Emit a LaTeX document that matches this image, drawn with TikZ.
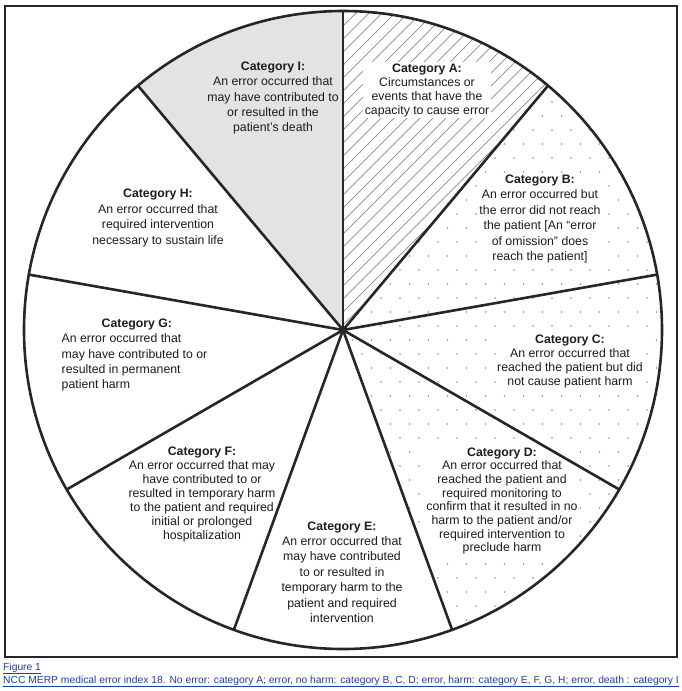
\documentclass[tikz,border=0pt]{standalone}
\usepackage{fontspec}
\setmainfont{Liberation Sans}
\usetikzlibrary{calc}
\definecolor{rim}{HTML}{262626}
\definecolor{ink}{HTML}{1C1C1C}
\definecolor{greyfill}{HTML}{E3E3E3}
\definecolor{hatch}{HTML}{8C8C8C}
\definecolor{speck}{HTML}{8F8F8F}
\definecolor{linkblue}{HTML}{1F3FA6}
\newcommand{\cat}[1]{\textbf{Category #1:}\\}
\tikzset{
  catlbl/.style={align=center, text=ink, inner sep=1.5pt, font=\fontsize{12.3}{15.4}\selectfont},
  tightlbl/.style={catlbl, font=\fontsize{12.3}{14}\selectfont},
  spoke/.style={draw=rim, line width=2.6pt},
  caplbl/.style={anchor=base west, inner sep=0pt, text=linkblue, font=\fontsize{10.3}{12}\selectfont},
}
\begin{document}
\begin{tikzpicture}[x=1pt, y=1pt]
\useasboundingbox (0,0) rectangle (682,-691);
\fill[white] (0,0) rectangle (682,-691);
\coordinate (o) at (343,-330);
\def\rad{319}
% category I, grey
\fill[greyfill] (o) -- ++(90:\rad) arc[start angle=90, end angle=130, radius=\rad] -- cycle;
% category A, hatched
\begin{scope}
  \clip (o) -- ++(50:\rad) arc[start angle=50, end angle=90, radius=\rad] -- cycle;
  \foreach \d in {-330,-317,...,240}
    \draw[hatch, line width=0.7pt] ($(o)+(\d-20,-20)$) -- ++(360,360);
\end{scope}
% categories B, C, D, dotted
\begin{scope}
  \clip (o) -- ++(-70:\rad) arc[start angle=-70, end angle=50, radius=\rad] -- cycle;
  \foreach \r in {0,...,46} {
    \pgfmathsetmacro{\sh}{mod(\r,2)*9.5}
    \foreach \c in {0,...,17}
      \fill[speck] (343+\c*19+\sh, -18-\r*14) circle[radius=0.85];
  }
\end{scope}

\node[catlbl] (catI) at (273,-98)
 {\cat{I}An error occurred that\\may have contributed to\\or resulted in the\\patient's death};
\node[tightlbl, fill=white] (catA) at (427,-90)
 {\cat{A}Circumstances or\\events that have the\\capacity to cause error};
\node[catlbl, fill=white] (catB) at (540,-219)
 {\cat{B}An error occurred but\\the error did not reach\\the patient [An “error\\of omission” does\\reach the patient]};
\node[tightlbl, fill=white] (catC) at (570,-361)
 {\cat{C}An error occurred that\\reached the patient but did\\not cause patient harm};
\node[catlbl, fill=white, font=\fontsize{12.3}{13.7}\selectfont] (catD) at (502,-501)
 {\cat{D}An error occurred that\\reached the patient and\\required monitoring to\\confirm that it resulted in no\\harm to the patient and/or\\required intervention to\\preclude harm};
\node[catlbl] (catE) at (342,-572)
 {\cat{E}An error occurred that\\may have contributed\\to or resulted in\\temporary harm to the\\patient and required\\intervention};
\node[catlbl, font=\fontsize{12.3}{14}\selectfont] (catF) at (202,-494)
 {\cat{F}An error occurred that may\\have contributed to or\\resulted in temporary harm\\to the patient and required\\initial or prolonged\\hospitalization};
\node[catlbl, align=left, anchor=west] (catG) at (60,-355)
 {\hspace*{40pt}\textbf{Category G:}\\An error occurred that\\may have contributed to or\\resulted in permanent\\patient harm};
\node[catlbl] (catH) at (158,-218)
 {\cat{H}An error occurred that\\required intervention\\necessary to sustain life};

\foreach \a in {90,50,...,-230}
  \draw[spoke] (o) -- ++(\a:\rad);
\draw[spoke] (o) circle[radius=\rad];
\draw[rim, line width=2.2pt] (5,-6) rectangle (677,-657);

\node[caplbl] (fig) at (3,-670) {\underline{Figure 1}};
\node[caplbl] (capt) at (3,-683)
 {\underline{NCC MERP medical error index 18. No error: category A; error, no harm: category B, C, D; error, harm: category E, F, G, H; error, death : category I}};
\end{tikzpicture}
\end{document}
